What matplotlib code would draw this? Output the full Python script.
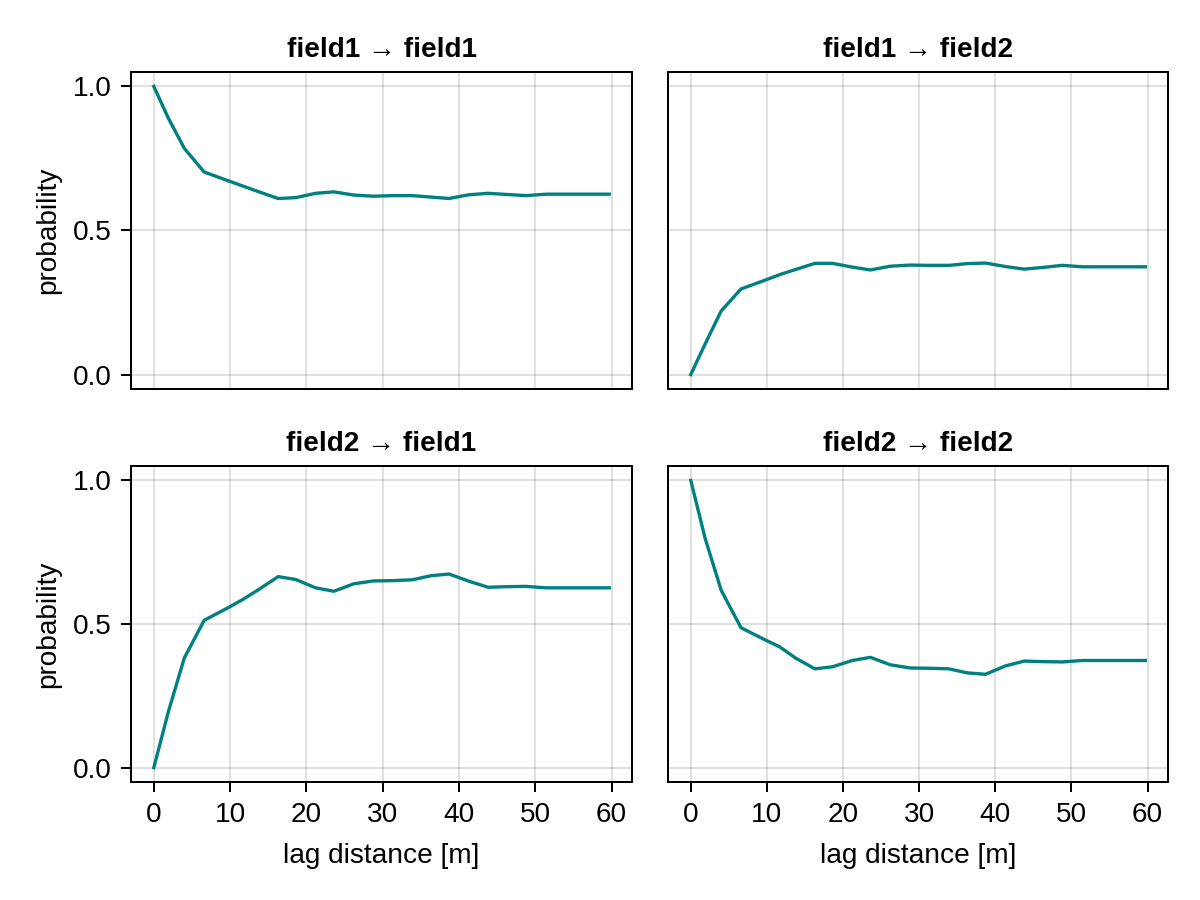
import numpy as np
import matplotlib
matplotlib.use("Agg")
import matplotlib.pyplot as plt

# lag distances (m), shared by all four panels
lags = [0.0, 1.9, 4.0, 6.6, 9.9, 11.7, 13.8, 16.3, 18.6, 21.2, 23.6, 26.2, 28.8,
        31.3, 33.9, 36.3, 38.7, 41.3, 43.8, 46.3, 48.8, 51.4, 54.0, 56.5, 59.7]

# transition probabilities
p11 = [1.0, 0.89, 0.785, 0.703, 0.671, 0.654, 0.634, 0.611, 0.614, 0.629, 0.634, 0.623, 0.619,
       0.621, 0.621, 0.616, 0.611, 0.624, 0.629, 0.625, 0.621, 0.626, 0.626, 0.626, 0.626]
p12 = [0.0, 0.107, 0.221, 0.297, 0.329, 0.347, 0.365, 0.386, 0.386, 0.373, 0.363, 0.376, 0.380,
       0.379, 0.379, 0.385, 0.387, 0.375, 0.366, 0.372, 0.379, 0.374, 0.374, 0.374, 0.374]
p21 = [0.0, 0.194, 0.382, 0.513, 0.559, 0.586, 0.621, 0.665, 0.655, 0.626, 0.614, 0.640, 0.650,
       0.651, 0.654, 0.668, 0.674, 0.649, 0.628, 0.630, 0.631, 0.626, 0.626, 0.626, 0.626]
p22 = [1.0, 0.797, 0.617, 0.487, 0.443, 0.420, 0.381, 0.344, 0.351, 0.373, 0.384, 0.358, 0.347,
       0.346, 0.344, 0.330, 0.325, 0.354, 0.371, 0.369, 0.368, 0.373, 0.373, 0.373, 0.373]

titles = ["field1 → field1", "field1 → field2", "field2 → field1", "field2 → field2"]
series = [p11, p12, p21, p22]

plt.rcParams['font.family'] = ['Liberation Sans', 'DejaVu Sans']
plt.rcParams['font.size'] = 10.1

fig = plt.figure(figsize=(6, 4.5), dpi=200)

# axes boxes in figure fractions: left, bottom, width, height
boxes = [
    [0.1092, 0.5678, 0.4175, 0.3522],
    [0.5567, 0.5678, 0.4167, 0.3522],
    [0.1092, 0.1311, 0.4175, 0.3511],
    [0.5567, 0.1311, 0.4167, 0.3511],
]

for i, (box, ys, title) in enumerate(zip(boxes, series, titles)):
    ax = fig.add_axes(box)
    ax.plot(lags, ys, color="#008080", linewidth=1.2)
    ax.set_ylim(-0.05, 1.05)
    ax.set_xlim(-2.985, 62.685)
    ax.set_xticks([0, 10, 20, 30, 40, 50, 60])
    ax.set_yticks([0.0, 0.5, 1.0])
    ax.set_yticklabels(["0.0", "0.5", "1.0"])
    ax.grid(True, color="black", alpha=0.12, linewidth=0.72)
    ax.set_axisbelow(True)
    for sp in ax.spines.values():
        sp.set_linewidth(0.72)
    ax.tick_params(length=3.6, width=0.72, pad=3.5)
    ax.set_title(title, fontsize=10.1, fontweight="bold", pad=5.5)

    row, col = divmod(i, 2)
    if row == 0:
        ax.tick_params(axis="x", bottom=False, labelbottom=False)
    else:
        ax.set_xlabel("lag distance [m]", labelpad=5.5)
    if col == 1:
        ax.tick_params(axis="y", left=False, labelleft=False)
    else:
        ax.set_ylabel("probability", labelpad=4)

plt.savefig("out.png", dpi=200)
